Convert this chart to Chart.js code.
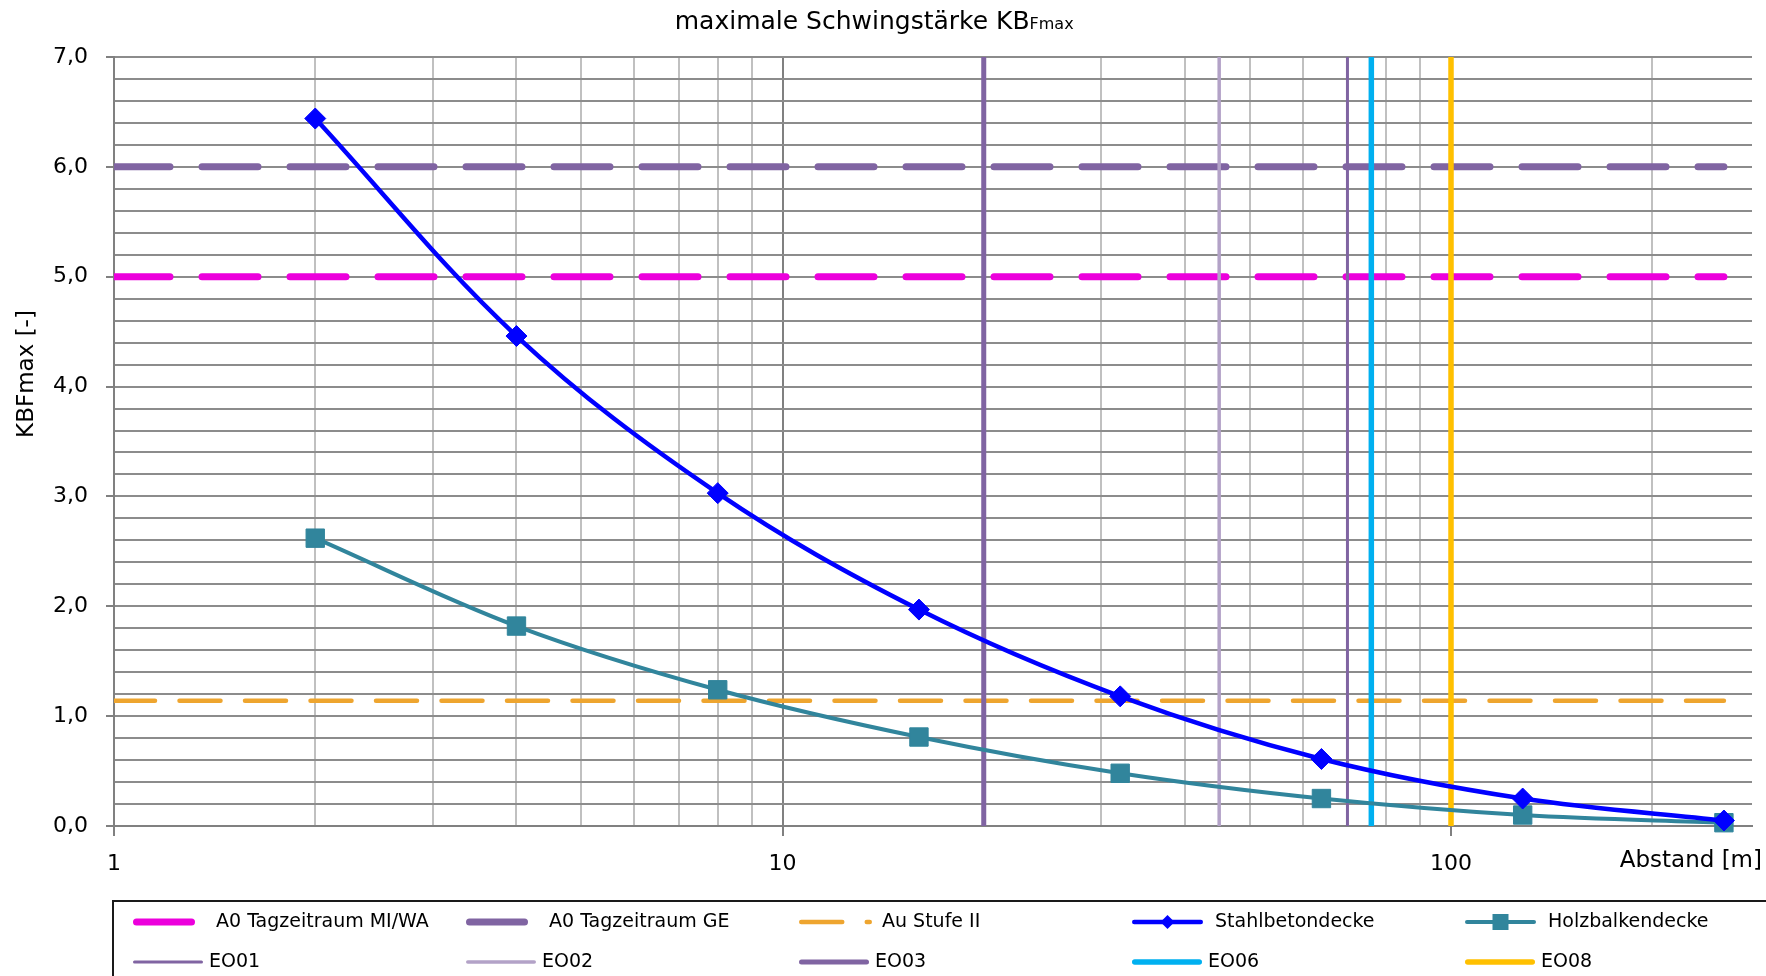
<!DOCTYPE html>
<html>
<head>
<meta charset="utf-8">
<script src="https://cdn.jsdelivr.net/npm/chart.js@4.4.1/dist/chart.umd.min.js"></script>
<style>
  html, body { margin: 0; padding: 0; background: #fff; overflow: hidden; }
</style>
</head>
<body>
<canvas id="chart" width="1766" height="976"></canvas>
<script>
// Abstand [m] und KBFmax je Deckenart
var abstand    = [2, 4, 8, 16, 32, 64, 128, 256];
var stahlbeton = [6.44, 4.46, 3.03, 1.97, 1.18, 0.61, 0.25, 0.05];
var holzbalken = [2.62, 1.82, 1.24, 0.81, 0.48, 0.25, 0.10, 0.03];

// Anhaltswerte (waagerecht, von 1 bis 256 m)
var grenzNamen = ["A0 Tagzeitraum MI/WA", "A0 Tagzeitraum GE", "Au Stufe II"];
var grenzWerte = [5.0, 6.0, 1.14];
var grenzBereich = [1, 256];

// Emissionsorte (senkrecht)
var eoNamen   = ["EO01", "EO02", "EO03", "EO06", "EO08"];
var eoAbstand = [70, 45, 20, 76, 100];

// Achsen
var xTickLabels = ["1", "10", "100"];
var xTickWerte  = [1, 10, 100];
var yTickLabels = ["0,0", "1,0", "2,0", "3,0", "4,0", "5,0", "6,0", "7,0"];
var yMin = 0, yMax = 7, yStep = 0.2;
var xMin = 1, xMax = 282;

var FONT = "'DejaVu Sans', sans-serif";
Chart.defaults.font.family = FONT;
Chart.defaults.color = '#000';

function xyPairs(xs, ys) {
    return xs.map(function(x, i) { return {x: x, y: ys[i]}; });
}
function waagerecht(v) {
    return [{x: grenzBereich[0], y: v}, {x: grenzBereich[1], y: v}];
}
function senkrecht(d) {
    return [{x: d, y: yMin}, {x: d, y: yMax}];
}
function isInt(v) { return Math.abs(v - Math.round(v)) < 1e-6; }

// Gitterlinien: 1..9 je Dekade
var xGrid = [];
[1, 10, 100].forEach(function(dec) {
    for (var k = 1; k <= 9; k++) { if (dec * k <= xMax) xGrid.push(dec * k); }
});
var yGrid = [];
for (var i = 0; i <= Math.round((yMax - yMin) / yStep); i++) yGrid.push(+(yMin + i * yStep).toFixed(1));

var datasets = [
    { label: grenzNamen[0], data: waagerecht(grenzWerte[0]), borderColor: '#ec00dc', borderWidth: 7,
      borderDash: [56, 32], borderCapStyle: 'round', pointRadius: 0, order: 3, legendLen: 62 },
    { label: grenzNamen[1], data: waagerecht(grenzWerte[1]), borderColor: '#8064a2', borderWidth: 7,
      borderDash: [56, 32], borderCapStyle: 'round', pointRadius: 0, order: 3, legendLen: 62 },
    { label: grenzNamen[2], data: waagerecht(grenzWerte[2]), borderColor: '#eea52f', borderWidth: 4.5,
      borderDash: [41, 24.5], borderCapStyle: 'round', pointRadius: 0, order: 3, legendLen: 73 },
    { label: "Stahlbetondecke", data: xyPairs(abstand, stahlbeton), borderColor: '#0000ff', backgroundColor: '#0000ff',
      borderWidth: 4.5, tension: 0.35, pointStyle: 'rectRot', pointRadius: 10.5, pointBorderWidth: 1,
      clip: false, order: 0, legendLen: 71, legendMarker: 7 },
    { label: "Holzbalkendecke", data: xyPairs(abstand, holzbalken), borderColor: '#31859c', backgroundColor: '#31859c',
      borderWidth: 4, tension: 0.35, pointStyle: 'rect', pointRadius: 13, pointBorderWidth: 1,
      clip: false, order: 1, legendLen: 71, legendMarker: 8 },
    { label: eoNamen[0], data: senkrecht(eoAbstand[0]), borderColor: '#8064a2', borderWidth: 3, pointRadius: 0, order: 2, legendLen: 70 },
    { label: eoNamen[1], data: senkrecht(eoAbstand[1]), borderColor: '#b3a2c7', borderWidth: 3.5, pointRadius: 0, order: 2, legendLen: 70 },
    { label: eoNamen[2], data: senkrecht(eoAbstand[2]), borderColor: '#8064a2', borderWidth: 5, pointRadius: 0, order: 2, legendLen: 70 },
    { label: eoNamen[3], data: senkrecht(eoAbstand[3]), borderColor: '#00b0f0', borderWidth: 5.5, pointRadius: 0, order: 2, legendLen: 70 },
    { label: eoNamen[4], data: senkrecht(eoAbstand[4]), borderColor: '#ffc000', borderWidth: 5.5, pointRadius: 0, order: 1, legendLen: 70 }
];

// Titel, Achsentitel und Legende selbst zeichnen
var beschriftung = {
    id: 'beschriftung',
    afterDraw: function(chart) {
        var ctx = chart.ctx, area = chart.chartArea;
        ctx.save();
        ctx.fillStyle = '#000';

        // Titel mit tiefgestelltem "Fmax"
        ctx.textBaseline = 'alphabetic';
        ctx.font = '25px ' + FONT;
        var t1 = 'maximale Schwingstärke KB';
        var w1 = ctx.measureText(t1).width;
        ctx.font = '16px ' + FONT;
        var w2 = ctx.measureText('Fmax').width;
        var x0 = chart.width * 0.495 - (w1 + w2) / 2;
        ctx.font = '25px ' + FONT;
        ctx.textAlign = 'left';
        ctx.fillText(t1, x0, 29);
        ctx.font = '16px ' + FONT;
        ctx.fillText('Fmax', x0 + w1, 29);

        // y-Achsentitel
        ctx.save();
        ctx.translate(27, 374);
        ctx.rotate(-Math.PI / 2);
        ctx.font = '23px ' + FONT;
        ctx.textAlign = 'center';
        ctx.textBaseline = 'middle';
        ctx.fillText('KBFmax [-]', 0, 0);
        ctx.restore();

        // x-Achsentitel
        ctx.font = '23px ' + FONT;
        ctx.textAlign = 'right';
        ctx.textBaseline = 'middle';
        ctx.fillText('Abstand [m]', chart.width - 4, area.bottom + 35);

        // Legende
        var boxTop = area.bottom + 75;
        ctx.strokeStyle = '#1a1a1a';
        ctx.lineWidth = 2;
        ctx.strokeRect(area.left - 1, boxTop, chart.width + 10, 200);

        var cols = 5, colW = 333, startX = area.left + 19;
        chart.data.datasets.forEach(function(ds, idx) {
            var row = Math.floor(idx / cols), col = idx % cols;
            var lx = startX + col * colW;
            var ly = boxTop + 21 + row * 40;
            var lw = ds.borderWidth;
            ctx.save();
            ctx.strokeStyle = ds.borderColor;
            ctx.lineWidth = lw;
            ctx.lineCap = 'round';
            ctx.setLineDash(ds.borderDash || []);
            ctx.beginPath();
            ctx.moveTo(lx + lw / 2, ly);
            ctx.lineTo(lx + ds.legendLen - lw / 2, ly);
            ctx.stroke();
            ctx.setLineDash([]);
            if (ds.legendMarker) {
                var cx = lx + ds.legendLen / 2, r = ds.legendMarker;
                ctx.fillStyle = ds.backgroundColor;
                ctx.beginPath();
                if (ds.pointStyle === 'rectRot') {
                    ctx.moveTo(cx, ly - r); ctx.lineTo(cx + r, ly); ctx.lineTo(cx, ly + r); ctx.lineTo(cx - r, ly);
                    ctx.closePath();
                } else {
                    ctx.rect(cx - r, ly - r, 2 * r, 2 * r);
                }
                ctx.fill();
            }
            ctx.restore();
            ctx.font = '19px ' + FONT;
            ctx.textAlign = 'left';
            ctx.textBaseline = 'middle';
            ctx.fillText(ds.label, lx + (row === 0 ? 83 : 76), ly);
        });
        ctx.restore();
    }
};

new Chart(document.getElementById('chart'), {
    type: 'line',
    data: { datasets: datasets },
    options: {
        responsive: false,
        animation: false,
        events: [],
        layout: { padding: { top: 57, right: 0, bottom: 90, left: 0 } },
        plugins: {
            legend: { display: false },
            title: { display: false },
            tooltip: { enabled: false }
        },
        scales: {
            x: {
                type: 'logarithmic',
                min: xMin,
                max: xMax,
                afterBuildTicks: function(s) {
                    s.ticks = xGrid.map(function(v) { return {value: v}; });
                },
                afterFit: function(s) { s.height = 60; },
                grid: {
                    color: function(c) { return xTickWerte.indexOf(c.tick.value) >= 0 ? '#808080' : '#c0c0c0'; },
                    lineWidth: 2,
                    tickLength: 10,
                    tickColor: function(c) { return xTickWerte.indexOf(c.tick.value) >= 0 ? '#808080' : 'rgba(0,0,0,0)'; }
                },
                border: { color: '#808080', width: 2 },
                ticks: {
                    autoSkip: false,
                    maxRotation: 0,
                    padding: 15,
                    font: { size: 22 },
                    callback: function(v) {
                        var k = xTickWerte.indexOf(v);
                        return k >= 0 ? xTickLabels[k] : '';
                    }
                }
            },
            y: {
                min: yMin,
                max: yMax,
                afterBuildTicks: function(s) {
                    s.ticks = yGrid.map(function(v) { return {value: v}; });
                },
                afterFit: function(s) { s.width = 114; },
                grid: {
                    color: '#8c8c8c',
                    lineWidth: 2,
                    tickLength: 8,
                    tickColor: function(c) { return isInt(c.tick.value) ? '#808080' : 'rgba(0,0,0,0)'; }
                },
                border: { color: '#808080', width: 2 },
                ticks: {
                    autoSkip: false,
                    padding: 18,
                    font: { size: 22 },
                    callback: function(v) {
                        return isInt(v) ? yTickLabels[Math.round(v)] : '';
                    }
                }
            }
        }
    },
    plugins: [beschriftung]
});
</script>
</body>
</html>
